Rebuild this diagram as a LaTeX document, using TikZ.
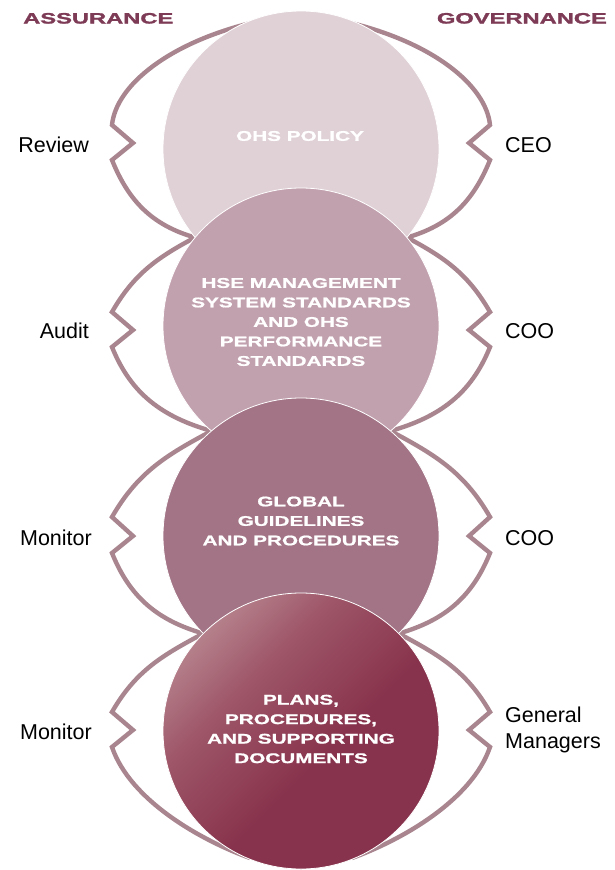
\documentclass[tikz,border=0pt]{standalone}
\usepackage{fontspec}
\setmainfont{Liberation Sans}
\newfontfamily\extfont[FakeStretch=1.48,FakeBold=1.2]{Liberation Sans Bold}
\newfontfamily\hdrfont[FakeStretch=1.58,FakeBold=1.8]{Liberation Sans Bold}
\newfontfamily\labfont[FakeStretch=1.0]{Liberation Sans}
\definecolor{hdr}{HTML}{7E3B56}
\definecolor{brk}{HTML}{A9868F}
\definecolor{cA}{HTML}{E0D1D6}
\definecolor{cB}{HTML}{C2A1AE}
\definecolor{cC}{HTML}{A27485}
\definecolor{cDl}{HTML}{C6A0A5}
\definecolor{cDm}{HTML}{9E5668}
\definecolor{cDd}{HTML}{88334D}
\pgfdeclareverticalshading{cDshade}{100bp}{color(0bp)=(cDd); color(44bp)=(cDd); color(63bp)=(cDm); color(84bp)=(cDl); color(100bp)=(cDl)}
\tikzset{
  brkline/.style={draw=brk, line width=4.4pt, line join=miter, line cap=butt},
  disc/.style={draw=white, line width=0.8pt},
  disctext/.style={text=white, align=center, inner sep=0pt, font=\extfont\fontsize{14}{19.5}\selectfont},
  hdrtext/.style={text=hdr, inner sep=0pt, font=\hdrfont\fontsize{15}{18}\selectfont},
  labtext/.style={text=black, inner sep=0pt, font=\labfont\fontsize{21.5}{26}\selectfont, align=left}
}
\begin{document}
\begin{tikzpicture}[x=1pt,y=1pt]
\useasboundingbox (0,0) rectangle (615,-870);
\fill[white] (0,0) rectangle (615,-870);

% brackets, left side, then mirrored
\foreach \mir in {0,1}{
\begin{scope}[shift={(602*\mir,0)}, xscale={1-2*\mir}]
  % bracket 1
  \draw[brkline] (255,-22) .. controls (170,-42) and (116,-85) .. (112,-125)
     -- (133,-143) -- (112,-160) to[out=-68,in=164] (195,-237.5);
  % bracket 2
  \draw[brkline] (195,-237.5) to[out=208,in=60] (112,-312)
     -- (133,-330) -- (112,-347) to[out=-68,in=164] (211.5,-431);
  % bracket 3
  \draw[brkline] (211.5,-431) to[out=208,in=60] (112,-517)
     -- (133,-536) -- (112,-553) to[out=-68,in=164] (203.3,-633.5);
  % bracket 4
  \draw[brkline] (203.3,-633.5) to[out=208,in=60] (112,-712)
     -- (133,-730) -- (112,-747) .. controls (130,-800) and (200,-840) .. (250,-858);
\end{scope}
}

% circles
\path[disc, fill=cA] (301,-149) circle[radius=138];
\path[disc, fill=cB] (301,-326) circle[radius=138];
\path[disc, fill=cC] (301,-536) circle[radius=138];
\shade[shading=cDshade, shading angle=45] (301,-731) circle[radius=138];
\draw[white, line width=0.8pt] (301,-731) circle[radius=138];

% circle texts
\node[disctext] (t1) at (300,-136) {OHS POLICY};
\node[disctext] (t2) at (301,-322) {HSE MANAGEMENT\\SYSTEM STANDARDS\\AND OHS\\PERFORMANCE\\STANDARDS};
\node[disctext] (t3) at (301,-521) {GLOBAL\\GUIDELINES\\AND PROCEDURES};
\node[disctext] (t4) at (301,-729) {PLANS,\\PROCEDURES,\\AND SUPPORTING\\DOCUMENTS};

% headers
\node[hdrtext, anchor=base west] (h1) at (23,-23.5) {ASSURANCE};
\node[hdrtext, anchor=base east] (h2) at (607,-23.5) {GOVERNANCE};

% left labels
\node[labtext, anchor=base east] (l1) at (89,-152) {Review};
\node[labtext, anchor=base east] (l2) at (89,-338) {Audit};
\node[labtext, anchor=base east] (l3) at (92,-545) {Monitor};
\node[labtext, anchor=base east] (l4) at (92,-739) {Monitor};

% right labels
\node[labtext, anchor=base west] (r1) at (505,-152) {CEO};
\node[labtext, anchor=base west] (r2) at (505,-338) {COO};
\node[labtext, anchor=base west] (r3) at (505,-545) {COO};
\node[labtext, anchor=base west] (r4a) at (505,-722) {General};
\node[labtext, anchor=base west] (r4b) at (505,-748) {Managers};
\end{tikzpicture}
\end{document}
